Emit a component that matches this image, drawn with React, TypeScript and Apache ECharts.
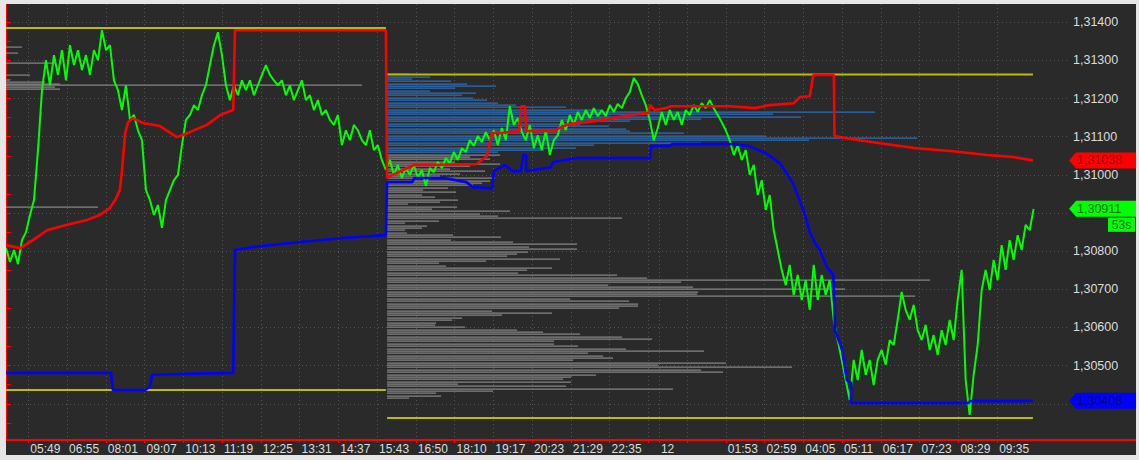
import React, { useEffect, useRef } from 'react';
import * as echarts from 'echarts';

// ---- axes ----
const X_MIN = 0;
const X_MAX = 1807; // bar index at right edge
const Y_MIN = 1.30305;
const Y_MAX = 1.31448;

const timeTickBars = [38, 104, 170, 236, 302, 368, 434, 500, 566, 632, 698, 764, 830, 896, 962, 1028, 1094, 1112, 1160, 1226, 1292, 1358, 1424, 1490, 1556, 1622, 1688];
const timeTickLabels = ['05:49', '06:55', '08:01', '09:07', '10:13', '11:19', '12:25', '13:31', '14:37', '15:43', '16:50', '18:10', '19:17', '20:23', '21:29', '22:35', '', '12', '', '01:53', '02:59', '04:05', '05:11', '06:17', '07:23', '08:29', '09:35'];

// grid levels (every 0.001); labels hidden where a price tag covers them in the reference
const priceGridValues = [1.304, 1.305, 1.306, 1.307, 1.308, 1.309, 1.31, 1.311, 1.312, 1.313, 1.314];
const priceLabelValues = [1.305, 1.306, 1.307, 1.308, 1.31, 1.311, 1.312, 1.313, 1.314];
const priceTickValues = [1.3035, 1.304, 1.3045, 1.305, 1.3055, 1.306, 1.3065, 1.307, 1.3075, 1.308, 1.3085, 1.309, 1.3095, 1.31, 1.3105, 1.311, 1.3115, 1.312, 1.3125, 1.313, 1.3135, 1.314];

// ---- price (sampled every GREEN_STEP bars) ----
const GREEN_STEP = 6.81;
const greenPrices = [
  1.30808, 1.30772, 1.30803, 1.30766, 1.30829, 1.30850, 1.30895, 1.30934, 1.31065, 1.31222,
  1.31301, 1.31235, 1.31314, 1.31262, 1.31327, 1.31248, 1.31340, 1.31288, 1.31327, 1.31275,
  1.31314, 1.31262, 1.31327, 1.31301, 1.31379, 1.31327, 1.31340, 1.31248, 1.31222, 1.31170,
  1.31235, 1.31144, 1.31157, 1.31117, 1.31091, 1.30960, 1.30934, 1.30895, 1.30921, 1.30861,
  1.30934, 1.30960, 1.30986, 1.31000, 1.31078, 1.31144, 1.31157, 1.31183, 1.31170, 1.31209,
  1.31235, 1.31288, 1.31340, 1.31374, 1.31314, 1.31235, 1.31196, 1.31235, 1.31209, 1.31248,
  1.31222, 1.31248, 1.31209, 1.31235, 1.31262, 1.31288, 1.31262, 1.31248, 1.31235, 1.31248,
  1.31209, 1.31235, 1.31196, 1.31222, 1.31248, 1.31196, 1.31209, 1.31170, 1.31196, 1.31157,
  1.31170, 1.31144, 1.31131, 1.31157, 1.31078, 1.31117, 1.31091, 1.31131, 1.31117, 1.31091,
  1.31078, 1.31117, 1.31065, 1.31078, 1.31039, 1.31013, 1.31039, 1.31000, 1.31026, 1.30992,
  1.31018, 1.31000, 1.31026, 1.30992, 1.31013, 1.30971, 1.31018, 1.31007, 1.31034, 1.31018,
  1.31044, 1.31031, 1.31060, 1.31039, 1.31070, 1.31060, 1.31091, 1.31076, 1.31102, 1.31086,
  1.31112, 1.31091, 1.31117, 1.31078, 1.31123, 1.31091, 1.31180, 1.31131, 1.31149, 1.31112,
  1.31091, 1.31131, 1.31070, 1.31104, 1.31065, 1.31117, 1.31052, 1.31091, 1.31104, 1.31144,
  1.31117, 1.31157, 1.31131, 1.31165, 1.31144, 1.31170, 1.31149, 1.31175, 1.31154, 1.31170,
  1.31154, 1.31183, 1.31165, 1.31186, 1.31175, 1.31201, 1.31217, 1.31254, 1.31238, 1.31209,
  1.31183, 1.31144, 1.31091, 1.31123, 1.31165, 1.31131, 1.31170, 1.31144, 1.31165, 1.31131,
  1.31170, 1.31157, 1.31183, 1.31165, 1.31188, 1.31175, 1.31196, 1.31175, 1.31157, 1.31138,
  1.31117, 1.31091, 1.31052, 1.31078, 1.31039, 1.31065, 1.31000, 1.31026, 1.30947, 1.30986,
  1.30908, 1.30947, 1.30855, 1.30803, 1.30751, 1.30711, 1.30764, 1.30685, 1.30738, 1.30672,
  1.30724, 1.30646, 1.30764, 1.30672, 1.30738, 1.30685, 1.30724, 1.30620, 1.30567, 1.30515,
  1.30462, 1.30410, 1.30515, 1.30462, 1.30541, 1.30476, 1.30515, 1.30449, 1.30515, 1.30541,
  1.30502, 1.30567, 1.30554, 1.30620, 1.30693, 1.30646, 1.30620, 1.30659, 1.30593, 1.30567,
  1.30607, 1.30541, 1.30580, 1.30528, 1.30593, 1.30554, 1.30620, 1.30567, 1.30672, 1.30751,
  1.30462, 1.30371, 1.30476, 1.30554, 1.30698, 1.30751, 1.30698, 1.30777, 1.30724, 1.30816,
  1.30751, 1.30829, 1.30777, 1.30842, 1.30803, 1.30869, 1.30855, 1.30911,
];

// ---- VWAP-type upper (red) and lower (blue) bands: [bar, price] ----
const redBand = [
  [0, 1.30816], [24, 1.30808], [46, 1.30829], [70, 1.30855], [104, 1.30869], [138, 1.30882], [160, 1.30895], [177, 1.30913],
  [186, 1.30934], [194, 1.30960], [198, 1.31020], [203, 1.31110], [208, 1.31138], [216, 1.31149], [233, 1.31136], [262, 1.31128],
  [291, 1.31099], [300, 1.31104], [313, 1.31112], [342, 1.31131], [365, 1.31157], [387, 1.31170], [390, 1.31379], [647, 1.31379],
  [649, 1.30992], [661, 1.31002], [680, 1.31015], [695, 1.31026], [729, 1.31026], [784, 1.31028], [801, 1.31028], [819, 1.31049],
  [828, 1.31110], [843, 1.31110], [874, 1.31115], [877, 1.31180], [884, 1.31180], [886, 1.31115], [935, 1.31115], [942, 1.31123],
  [959, 1.31133], [1002, 1.31141], [1063, 1.31157], [1094, 1.31162], [1097, 1.31183], [1105, 1.31170], [1124, 1.31175], [1133, 1.31180],
  [1233, 1.31180], [1276, 1.31175], [1300, 1.31183], [1342, 1.31188], [1352, 1.31204], [1369, 1.31206], [1375, 1.31262], [1410, 1.31262],
  [1411, 1.31102], [1439, 1.31094], [1489, 1.31083], [1550, 1.31070], [1613, 1.31062], [1671, 1.31052], [1715, 1.31047], [1749, 1.31038],
];
const blueBand = [
  [0, 1.30481], [179, 1.30481], [182, 1.30436], [237, 1.30436], [245, 1.30444], [249, 1.30476], [296, 1.30478], [387, 1.30481],
  [390, 1.30803], [421, 1.30811], [501, 1.30824], [569, 1.30834], [647, 1.30842],
  [649, 1.30981], [692, 1.30981], [695, 1.30992], [746, 1.30992], [784, 1.30981], [795, 1.30968], [828, 1.30965], [831, 1.31010],
  [850, 1.31026], [862, 1.31010], [877, 1.31010], [881, 1.31052], [886, 1.31052], [886, 1.31010], [928, 1.31020], [932, 1.31034],
  [971, 1.31044], [1097, 1.31044], [1099, 1.31076], [1129, 1.31076], [1136, 1.31081], [1233, 1.31081], [1264, 1.31076], [1294, 1.31057],
  [1318, 1.31031], [1340, 1.30979], [1358, 1.30908], [1369, 1.30850], [1378, 1.30821], [1386, 1.30803], [1398, 1.30758], [1409, 1.30738],
  [1412, 1.30593], [1424, 1.30541], [1432, 1.30462], [1439, 1.30455], [1439, 1.30402], [1639, 1.30402], [1642, 1.30407], [1727, 1.30407],
  [1749, 1.30408],
];

// ---- session high / low levels (yellow) ----
const sessionStarts = [0, 649];
const sessionEnds = [647, 1749];
const sessionHighs = [1.31385, 1.31263];
const sessionLows = [1.30436, 1.30363];

// ---- volume profiles ----
const VOL_SCALE = 1.7032; // bars per volume unit
const profile1Start = 0;
const profile1Prices = [1.31335, 1.31319, 1.31293, 1.31262, 1.31248, 1.31243, 1.31238, 1.31235, 1.31230, 1.31225, 1.30916];
const profile1Vols = [16, 12, 49, 24, 4, 39, 54, 356, 49, 54, 92];

const profile2Start = 649;
const profile2Top = 1.31264;
const profile2Bin = 0.000062;
const profile2ValueAreaBins = 34;
const profile2Vols = [
  22, 43, 25, 64, 80, 109, 68, 43, 89, 75,
  86, 100, 111, 129, 179, 214, 488, 386, 414, 314,
  243, 193, 222, 239, 243, 297, 379, 530, 422, 314,
  207, 189, 157, 111, 113, 83, 103, 68, 113, 83,
  63, 98, 73, 53, 108, 103, 95, 86, 61, 36,
  69, 35, 48, 71, 53, 21, 70, 45, 123, 93,
  111, 235, 52, 18, 40, 35, 18, 20, 66, 114,
  64, 126, 190, 142, 190, 141, 130, 120, 173, 99,
  52, 59, 165, 140, 131, 230, 260, 543, 294, 221,
  306, 458, 311, 310, 528, 183, 242, 251, 251, 232,
  105, 165, 115, 75, 65, 49, 48, 78, 130, 156,
  193, 235, 265, 167, 167, 191, 239, 317, 201, 216,
  226, 186, 339, 271, 405, 314, 336, 209, 184, 176,
  184, 71, 179, 286, 106, 49, 54, 22,
];

// ---- last values (axis tags) ----
const lastUpper = 1.31038;
const lastPrice = 1.30911;
const lastLower = 1.30408;
const barTimer = '53s';

const FONT = '"Liberation Sans", Arial, sans-serif';
const fmtPrice = (v: number) => v.toFixed(5).replace('.', ',');

export default function App() {
  const ref = useRef<HTMLDivElement>(null);

  useEffect(() => {
    const chart = echarts.init(ref.current!, null, { renderer: 'svg' });

    const labelMap = new Map<number, string>();
    timeTickBars.forEach((b, i) => labelMap.set(b, timeTickLabels[i]));
    const labelledBars = timeTickBars.filter((_, i) => timeTickLabels[i] !== '');

    const profileData: number[][] = [];
    profile1Prices.forEach((p, i) => profileData.push([profile1Start, p, profile1Vols[i], 0]));
    profile2Vols.forEach((v, i) =>
      profileData.push([profile2Start, profile2Top - i * profile2Bin, v, i < profile2ValueAreaBins ? 1 : 0])
    );

    const yellowSeries: any[] = [];
    sessionStarts.forEach((s, i) => {
      [sessionHighs[i], sessionLows[i]].forEach((lvl) => {
        yellowSeries.push({
          type: 'line',
          data: [[s, lvl], [sessionEnds[i], lvl]],
          symbol: 'none',
          silent: true,
          lineStyle: { color: '#bcbc00', width: 2 },
          z: 3,
        });
      });
    });

    const option: any = {
      animation: false,
      backgroundColor: '#2a2a2a',
      grid: { left: 0, top: 0, right: 69, bottom: 15 },
      xAxis: {
        type: 'value',
        min: X_MIN,
        max: X_MAX,
        axisLine: { show: true, lineStyle: { color: '#ff0000', width: 2 } },
        axisTick: { show: true, customValues: timeTickBars, length: 3, lineStyle: { color: '#ff0000', width: 1 } },
        axisLabel: {
          customValues: labelledBars,
          formatter: (v: number) => labelMap.get(Math.round(v)) ?? '',
          color: '#dcdcdc',
          fontSize: 12,
          fontFamily: FONT,
          align: 'left',
          margin: 3,
          padding: [0, 0, 0, 2],
        },
        splitLine: { show: true, lineStyle: { color: '#555555', width: 1, type: [1, 3] } },
      },
      yAxis: [
        {
          type: 'value',
          position: 'right',
          min: Y_MIN,
          max: Y_MAX,
          axisLine: { show: true, lineStyle: { color: '#ff0000', width: 2 } },
          axisTick: { show: true, customValues: priceTickValues, length: 5, lineStyle: { color: '#ff0000', width: 1 } },
          axisLabel: {
            customValues: priceLabelValues,
            formatter: (v: number) => fmtPrice(v),
            color: '#dcdcdc',
            fontSize: 12.5,
            fontFamily: FONT,
            margin: 6,
          },
          splitLine: { show: false },
        },
        {
          type: 'value',
          position: 'right',
          min: Y_MIN,
          max: Y_MAX,
          axisLine: { show: false },
          axisTick: { show: false, customValues: priceGridValues },
          axisLabel: { show: false },
          splitLine: { show: true, lineStyle: { color: '#555555', width: 1, type: [1, 3] } },
        },
      ],
      series: [
        {
          type: 'custom',
          coordinateSystem: 'cartesian2d',
          data: profileData,
          encode: { x: 0, y: 1 },
          silent: true,
          z: 1,
          renderItem: (params: any, api: any) => {
            const x0 = api.value(0);
            const p = api.value(1);
            const v = api.value(2);
            const blue = api.value(3) === 1;
            const a = api.coord([x0, p]);
            const b = api.coord([x0 + v * VOL_SCALE, p]);
            return {
              type: 'rect',
              shape: { x: a[0], y: Math.round(a[1]) - 0.5, width: b[0] - a[0], height: 1.2 },
              style: { fill: blue ? '#2a6fbc' : '#858585' },
            };
          },
        },
        ...yellowSeries,
        {
          type: 'line',
          data: greenPrices.map((p, i) => [i * GREEN_STEP, p]),
          symbol: 'none',
          silent: true,
          lineStyle: { color: '#00ff00', width: 2 },
          z: 4,
        },
        {
          type: 'line',
          data: blueBand,
          symbol: 'none',
          silent: true,
          lineStyle: { color: '#0000ff', width: 2.6 },
          z: 5,
        },
        {
          type: 'line',
          data: redBand,
          symbol: 'none',
          silent: true,
          lineStyle: { color: '#ff0000', width: 2.6 },
          z: 6,
        },
      ],
    };

    chart.setOption(option);

    const W = 1130;
    const axisX = W - 69;
    const tag = (price: number, bg: string, fg: string) => {
      const y = chart.convertToPixel({ yAxisIndex: 0 }, price) as number;
      return [
        {
          type: 'polygon',
          z: 100,
          shape: { points: [[axisX + 2, y], [axisX + 9, y - 8], [W, y - 8], [W, y + 8], [axisX + 9, y + 8]] },
          style: { fill: bg },
        },
        {
          type: 'text',
          z: 101,
          x: axisX + 10,
          y: y,
          style: {
            text: fmtPrice(price),
            fill: fg,
            fontSize: 12.5,
            fontFamily: FONT,
            align: 'left',
            verticalAlign: 'middle',
            textAlign: 'left',
            textVerticalAlign: 'middle',
          },
        },
      ];
    };
    const gy = chart.convertToPixel({ yAxisIndex: 0 }, lastPrice) as number;
    const bottomY = chart.convertToPixel({ yAxisIndex: 0 }, Y_MIN) as number;
    chart.setOption({
      graphic: [
        {
          type: 'line',
          z: 50,
          shape: { x1: axisX, y1: bottomY, x2: W, y2: bottomY },
          style: { stroke: '#ff0000', lineWidth: 2 },
        },
        ...tag(lastUpper, '#ff0000', '#a00000'),
        ...tag(lastPrice, '#00ff00', '#007000'),
        {
          type: 'rect',
          z: 100,
          shape: { x: W - 28, y: gy + 9, width: 27, height: 14 },
          style: { fill: '#00ff00' },
        },
        {
          type: 'text',
          z: 101,
          x: W - 14.5,
          y: gy + 16,
          style: {
            text: barTimer,
            fill: '#007000',
            fontSize: 12,
            fontFamily: FONT,
            align: 'center',
            verticalAlign: 'middle',
            textAlign: 'center',
            textVerticalAlign: 'middle',
          },
        },
        ...tag(lastLower, '#0000ff', '#000080'),
      ],
    });

    return () => chart.dispose();
  }, []);

  return (
    <div style={{ position: 'absolute', left: 0, top: 0, width: 1139, height: 460, background: '#e6e6e6' }}>
      <div ref={ref} style={{ position: 'absolute', left: 6, top: 4, width: 1130, height: 451 }} />
    </div>
  );
}
